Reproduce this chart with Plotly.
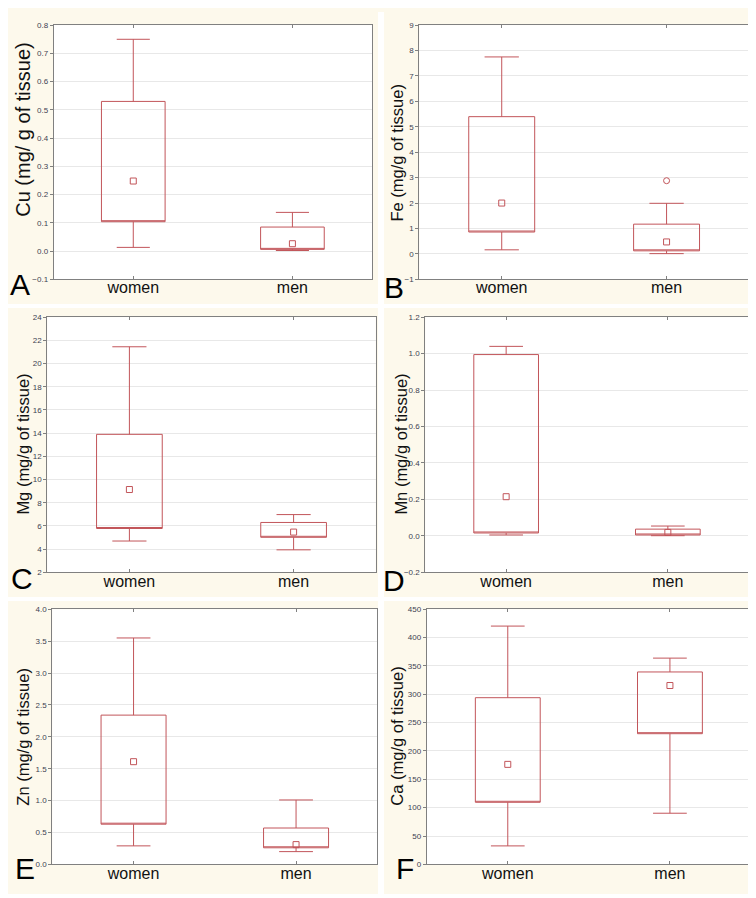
import plotly.graph_objects as go

# ---------------- data ----------------
groups = ["women", "men"]

panel_letters = ["A", "B", "C", "D", "E", "F"]
y_titles = [
    "Cu (mg/ g of tissue)",
    "Fe (mg/g of tissue)",
    "Mg (mg/g of tissue)",
    "Mn (mg/g of tissue)",
    "Zn (mg/g of tissue)",
    "Ca (mg/g of tissue)",
]

# Cu
cu_low = [0.013, 0.002]
cu_q1 = [0.104, 0.006]
cu_median = [0.248, 0.026]
cu_q3 = [0.530, 0.085]
cu_high = [0.750, 0.137]

# Fe
fe_low = [0.16, 0.01]
fe_q1 = [0.86, 0.12]
fe_median = [2.00, 0.47]
fe_q3 = [5.40, 1.17]
fe_high = [7.75, 1.99]
fe_outlier_men = [2.88]

# Mg
mg_low = [4.70, 3.94]
mg_q1 = [5.78, 5.02]
mg_median = [9.14, 5.47]
mg_q3 = [13.90, 6.30]
mg_high = [21.45, 6.98]

# Mn
mn_low = [0.005, 0.001]
mn_q1 = [0.016, 0.005]
mn_median = [0.215, 0.019]
mn_q3 = [0.995, 0.037]
mn_high = [1.040, 0.054]

# Zn
zn_low = [0.29, 0.20]
zn_q1 = [0.63, 0.26]
zn_median = [1.61, 0.31]
zn_q3 = [2.34, 0.57]
zn_high = [3.55, 1.01]

# Ca
ca_low = [32.6, 90.2]
ca_q1 = [109.5, 230.5]
ca_median = [176.4, 315.5]
ca_q3 = [294.0, 339.4]
ca_high = [420.3, 363.8]

# axis ranges / tick steps
y_ranges = [[-0.1, 0.8], [-1, 9], [2, 24], [-0.2, 1.2], [0, 4], [0, 450]]
y_dticks = [0.1, 1, 2, 0.2, 0.5, 50]
y_formats = [".1f", "d", "d", ".1f", ".1f", "d"]

stats = [
    (cu_low, cu_q1, cu_median, cu_q3, cu_high),
    (fe_low, fe_q1, fe_median, fe_q3, fe_high),
    (mg_low, mg_q1, mg_median, mg_q3, mg_high),
    (mn_low, mn_q1, mn_median, mn_q3, mn_high),
    (zn_low, zn_q1, zn_median, zn_q3, zn_high),
    (ca_low, ca_q1, ca_median, ca_q3, ca_high),
]

# ---------------- layout geometry (pixels) ----------------
W, H = 756, 898
# plot-area rectangles: left, right, top, bottom
rects = [
    (45.7, 364.0, 13.3, 270.0),
    (411.3, 741.0, 13.3, 270.0),
    (39.3, 367.7, 308.3, 566.0),
    (417.3, 740.7, 308.3, 566.0),
    (44.3, 369.3, 603.3, 861.0),
    (418.7, 743.0, 603.3, 861.0),
]
# y-title centers (x, y) and font sizes
title_pos = [(15, 119), (389, 142), (15, 437), (393, 437), (15, 732), (389, 732)]
title_sizes = [20, 16.5, 16.5, 16.5, 16.5, 16.5]
# panel letter centers
letter_pos = [(12, 275), (386, 278), (14, 572), (386, 574), (17, 865), (397, 865)]
# white separator strips between the cream panels: x0, x1, y0, y1
sep_rects = [(370, 376, 0, 898), (750, 756, 0, 898), (0, 756, 295, 299),
             (0, 756, 591, 595), (0, 756, 891, 898)]

RED = "#c2555a"
AX = "#808080"
GRID = "#e8e8e8"
FONT = "Liberation Sans, Arial, sans-serif"

fig = go.Figure()
layout = dict(
    width=W, height=H,
    margin=dict(l=0, r=0, t=0, b=0),
    paper_bgcolor="#fdf9ec",
    plot_bgcolor="#ffffff",
    showlegend=False,
    font=dict(family=FONT, color="#000000"),
)
shapes = []
annotations = []

for i in range(6):
    n = "" if i == 0 else str(i + 1)
    xa, ya = "x" + n, "y" + n
    low, q1, med, q3, high = stats[i]
    fig.add_trace(go.Box(
        x=groups, q1=q1, median=q1, q3=q3, lowerfence=low, upperfence=high,
        width=0.4, whiskerwidth=0.52, boxpoints=False,
        line=dict(color=RED, width=1), fillcolor="rgba(255,255,255,0)",
        xaxis=xa, yaxis=ya, hoverinfo="skip",
    ))
    fig.add_trace(go.Scatter(
        x=groups, y=med, mode="markers",
        marker=dict(symbol="square-open", size=6, color=RED, line=dict(width=1, color=RED)),
        xaxis=xa, yaxis=ya, hoverinfo="skip",
    ))
    if i == 1:
        fig.add_trace(go.Scatter(
            x=["men"], y=fe_outlier_men, mode="markers",
            marker=dict(symbol="circle-open", size=6, color=RED, line=dict(width=1, color=RED)),
            xaxis=xa, yaxis=ya, hoverinfo="skip",
        ))

    l, r, t, b = rects[i]
    layout["xaxis" + n] = dict(
        domain=[l / W, r / W], anchor=ya,
        type="category", range=[-0.5, 1.5],
        showline=True, linecolor=AX, linewidth=1, mirror="allticks",
        ticks="inside", ticklen=3, tickcolor=AX,
        showgrid=False, zeroline=False,
        tickfont=dict(size=16, color="#111111", family=FONT),
        ticklabelstandoff=-6,
    )
    layout["yaxis" + n] = dict(
        domain=[1 - b / H, 1 - t / H], anchor=xa,
        range=y_ranges[i], dtick=y_dticks[i], tick0=y_ranges[i][0],
        tickformat=y_formats[i],
        showline=True, linecolor=AX, linewidth=1, mirror=True,
        ticks="outside", ticklen=3, tickcolor=AX,
        showgrid=True, gridcolor=GRID, gridwidth=1, zeroline=False,
        tickfont=dict(size=8, color="#3d4252", family=FONT),
    )
    tx, ty = title_pos[i]
    annotations.append(dict(text=y_titles[i], xref="paper", yref="paper",
                            x=tx / W, y=1 - ty / H, xanchor="center", yanchor="middle",
                            textangle=-90, showarrow=False,
                            font=dict(size=title_sizes[i], color="#111111", family=FONT)))
    lx, ly = letter_pos[i]
    annotations.append(dict(text=panel_letters[i], xref="paper", yref="paper",
                            x=lx / W, y=1 - ly / H, xanchor="center", yanchor="middle",
                            showarrow=False,
                            font=dict(size=30, color="#000000", family=FONT)))

for x0, x1, y0, y1 in sep_rects:
    shapes.append(dict(type="rect", xref="paper", yref="paper",
                       x0=x0 / W, x1=x1 / W, y0=1 - y1 / H, y1=1 - y0 / H,
                       fillcolor="#ffffff", line=dict(width=0), layer="above"))

layout["shapes"] = shapes
layout["annotations"] = annotations
fig.update_layout(**layout)
fig.write_html("out.html")
